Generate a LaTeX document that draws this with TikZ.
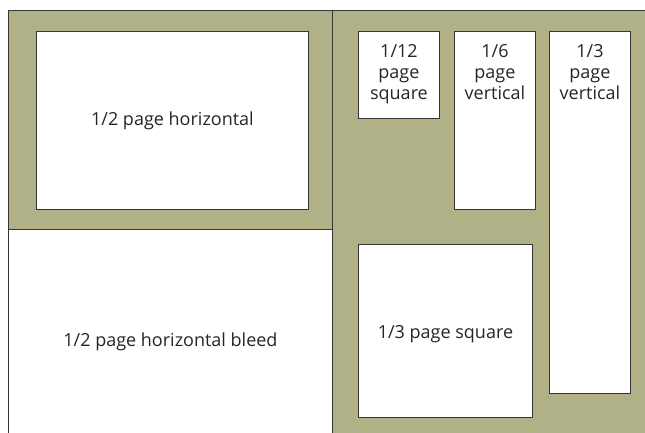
\documentclass[tikz,border=0pt]{standalone}
\usepackage{fontspec}
\setmainfont{Open Sans}
\usetikzlibrary{positioning}
\definecolor{olive}{RGB}{176,177,135}
\definecolor{edge}{RGB}{55,55,55}
\tikzset{
  adbox/.style={draw=edge, line width=0.9pt, fill=white, anchor=north west, inner sep=0pt},
  adtext/.style={font=\fontsize{18}{21}\selectfont, text=black!85, align=center}
}
\begin{document}
\begin{tikzpicture}[x=1pt, y=1pt]
    \useasboundingbox (0,0) rectangle (645,432);
    \clip (0,0) rectangle (645,432);

    % olive background, two panels
    \fill[olive] (8,-10) rectangle (660,422);
    \draw[edge, line width=0.9pt] (8,-10) -- (8,422) -- (660,422); % outer edge
    \draw[edge, line width=0.9pt] (332,-10) -- (332,422); % divider

    % left panel
    \node[adbox, minimum width=272, minimum height=178] (half) at (36,401) {};
    \node[adtext] (halftext) at (half.center) {1/2 page horizontal};

    \node[adbox, minimum width=324, minimum height=220] (bleed) at (8,203) {};
    \node[adtext] (bleedtext) at ([yshift=-2]bleed.center) {1/2 page horizontal bleed};

    % right panel
    \node[adbox, minimum width=81, minimum height=87] (twelfth) at (358,401) {};
    \node[adtext, below=10pt of twelfth.north] (twelfthtext) {1/12\\page\\square};

    \node[adbox, minimum width=81, minimum height=178] (sixth) at (454,401) {};
    \node[adtext, below=10pt of sixth.north] (sixthtext) {1/6\\page\\vertical};

    \node[adbox, minimum width=81, minimum height=362] (thirdv) at (549,401) {};
    \node[adtext, below=10pt of thirdv.north] (thirdvtext) {1/3\\page\\vertical};

    \node[adbox, minimum width=174, minimum height=173] (thirdsq) at (358,188) {};
    \node[adtext] (thirdsqtext) at ([yshift=-3]thirdsq.center) {1/3 page square};
\end{tikzpicture}
\end{document}
